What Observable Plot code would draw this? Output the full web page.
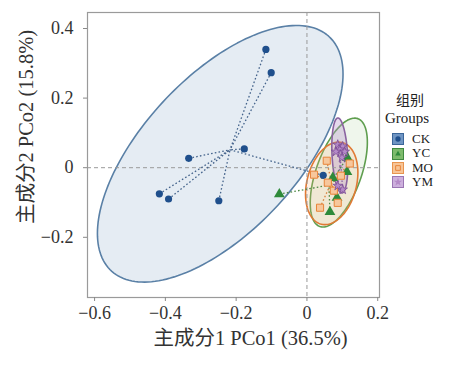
<!DOCTYPE html>
<html><head><meta charset="utf-8">
<script src="https://cdn.jsdelivr.net/npm/d3@7"></script>
<script src="https://cdn.jsdelivr.net/npm/@observablehq/plot@0.6"></script>
<style>
body{margin:0;background:#fff;}
#wrap{position:relative;width:464px;height:373px;background:#fff;overflow:hidden;}
#legend{position:absolute;left:384px;top:88px;font-family:'Liberation Serif','Noto Sans CJK SC',serif;color:#222;}
#legend .ttl{position:absolute;white-space:nowrap;line-height:16px;}
#legend .item{position:absolute;left:8px;height:14.4px;line-height:14.4px;display:flex;align-items:center;white-space:nowrap;font-size:13px;}
#legend .item svg{margin-right:8px;}
</style></head><body><div id="wrap"><div id="legend"></div></div>
<script>
// ---- data ----
const groups = ["CK", "YC", "MO", "YM"];
const ckX = [-0.116, -0.101, -0.177, -0.334, -0.417, -0.391, -0.249, 0.046];
const ckY = [0.340, 0.273, 0.054, 0.027, -0.075, -0.090, -0.095, -0.022];
const ycX = [-0.078, 0.114, 0.113, 0.073, 0.085, 0.065];
const ycY = [-0.076, 0.029, -0.012, -0.029, -0.086, -0.127];
const moX = [0.056, 0.020, 0.059, 0.096, 0.121, 0.037, 0.087, 0.076];
const moY = [0.020, -0.020, -0.043, -0.023, 0.012, -0.115, -0.101, -0.066];
const ymX = [0.087, 0.101, 0.093, 0.107, 0.082, 0.099, 0.101, 0.087];
const ymY = [0.066, 0.061, 0.052, 0.046, 0.046, 0.029, -0.063, -0.052];
// confidence ellipses: centre, semi-axes, angle (deg)
const ellCx = [-0.245, 0.090, 0.070, 0.093];
const ellCy = [0.040, -0.014, -0.045, 0.035];
const ellA = [0.456, 0.164, 0.121, 0.108];
const ellB = [0.220, 0.064, 0.070, 0.022];
const ellAngle = [47.8, 71, 76, 93];
const xTicks = [-0.6, -0.4, -0.2, 0, 0.2];
const yTicks = [-0.2, 0, 0.2, 0.4];
const xTitle = "主成分1 PCo1 (36.5%)";
const yTitle = "主成分2 PCo2 (15.8%)";
const legendTitle1 = "组别";
const legendTitle2 = "Groups";

// ---- styles ----
const symbols = {CK: "circle", YC: "triangle", MO: "square", YM: "star"};
const ptFill = {CK: "#1f4f8c", YC: "#2e8a3a", MO: "#f7c79c", YM: "#b58ac8"};
const ptStroke = {CK: "none", YC: "none", MO: "#e8843a", YM: "#7a4a94"};
const ellStroke = {CK: "#5a80a6", YC: "#5f9e4f", MO: "#e07a35", YM: "#8a62a0"};
const ellFill = {CK: "#4a78a8", YC: "#8dc07a", MO: "#f5b47a", YM: "#b493cc"};
const ellFillOp = {CK: 0.14, YC: 0.14, MO: 0.2, YM: 0.35};
const linkStroke = {CK: "#45648c", YC: "#4f8a45", MO: "#d9823e", YM: "#8a62a0"};
const keyFill = {CK: "#6f95c3", YC: "#7dbb6c", MO: "#f7c496", YM: "#cdb0dd"};
const keyStroke = {CK: "#3b6699", YC: "#3f8a3f", MO: "#e8944f", YM: "#9a75b3"};

// ---- build tables ----
const xs = {CK: ckX, YC: ycX, MO: moX, YM: ymX};
const ys = {CK: ckY, YC: ycY, MO: moY, YM: ymY};
const points = groups.flatMap(g => xs[g].map((x, i) => ({group: g, x, y: ys[g][i]})));
const centroids = Object.fromEntries(groups.map(g => [g, {x: d3.mean(xs[g]), y: d3.mean(ys[g])}]));
const links = points.map(p => ({...p, cx: centroids[p.group].x, cy: centroids[p.group].y}));
const ellipse = (i) => {
  const th = ellAngle[i] * Math.PI / 180;
  return d3.range(0, 361, 2).map(deg => {
    const t = deg * Math.PI / 180;
    return {
      x: ellCx[i] + ellA[i] * Math.cos(t) * Math.cos(th) - ellB[i] * Math.sin(t) * Math.sin(th),
      y: ellCy[i] + ellA[i] * Math.cos(t) * Math.sin(th) + ellB[i] * Math.sin(t) * Math.cos(th)
    };
  });
};
const fmt = d => d === 0 ? "0" : d3.format(".1f")(d);
const serif = "'Liberation Serif','Times New Roman','Noto Sans CJK SC',serif";

const marks = [];
groups.forEach((g, i) => {
  marks.push(Plot.line(ellipse(i), {x: "x", y: "y", stroke: ellStroke[g], strokeWidth: 1.6,
    fill: ellFill[g], fillOpacity: ellFillOp[g], curve: "linear-closed"}));
});
marks.push(Plot.ruleY([0], {stroke: "#9a9a9a", strokeDasharray: "4,3", strokeWidth: 1}));
marks.push(Plot.ruleX([0], {stroke: "#9a9a9a", strokeDasharray: "4,3", strokeWidth: 1}));
groups.forEach(g => {
  marks.push(Plot.link(links.filter(d => d.group === g), {x1: "x", y1: "y", x2: "cx", y2: "cy",
    stroke: linkStroke[g], strokeWidth: 1.3, strokeDasharray: "1.6,2.2"}));
});
groups.forEach(g => {
  marks.push(Plot.dot(points.filter(d => d.group === g), {x: "x", y: "y", symbol: symbols[g],
    r: g === "CK" ? 3.6 : g === "YM" ? 3 : 4, fill: ptFill[g], stroke: ptStroke[g], strokeWidth: g === "YM" ? 0.8 : 1}));
});
marks.push(Plot.frame({stroke: "#9a9a9a", strokeWidth: 1.2}));
marks.push(Plot.axisX(xTicks, {tickFormat: fmt, tickSize: 4, tickPadding: 5, stroke: "#888", color: "#333", fontSize: 18, label: null}));
marks.push(Plot.axisY(yTicks, {tickFormat: fmt, tickSize: 4, tickPadding: 10, stroke: "#888", color: "#333", fontSize: 18, label: null}));
marks.push(Plot.text([xTitle], {frameAnchor: "bottom", lineAnchor: "middle", textAnchor: "middle", dx: 17, dy: 41, fontSize: 20.5, fill: "#333"}));
marks.push(Plot.text([yTitle], {frameAnchor: "left", lineAnchor: "middle", textAnchor: "middle", rotate: -90, dx: -61, dy: -28, fontSize: 20.5, fill: "#333"}));

const chart = Plot.plot({
  width: 464, height: 373,
  marginLeft: 87, marginRight: 85, marginTop: 12, marginBottom: 76,
  x: {domain: [-0.62, 0.205]},
  y: {domain: [-0.373, 0.446]},
  style: {fontFamily: serif, fontSize: "18px", color: "#333", background: "white", overflow: "visible"},
  marks
});
document.getElementById("wrap").prepend(chart);

// ---- legend ----
const leg = d3.select("#legend");
leg.append("div").attr("class", "ttl").style("left", "12px").style("top", "3px").style("font-size", "14px")
  .style("font-family", "'Noto Sans CJK SC',sans-serif").text(legendTitle1);
leg.append("div").attr("class", "ttl").style("left", "1px").style("top", "22px").style("font-size", "15px").text(legendTitle2);
groups.forEach((g, i) => {
  const it = leg.append("div").attr("class", "item").style("top", (44 + i * 14.4) + "px");
  const svg = it.append("svg").attr("width", 12).attr("height", 12);
  svg.append("rect").attr("x", 0.5).attr("y", 0.5).attr("width", 11).attr("height", 11)
    .attr("fill", keyFill[g]).attr("stroke", keyStroke[g]);
  const sym = {circle: d3.symbolCircle, triangle: d3.symbolTriangle2, square: d3.symbolSquare, star: d3.symbolStar}[symbols[g]];
  svg.append("path").attr("transform", "translate(6,6)").attr("d", d3.symbol(sym, 22)())
    .attr("fill", g === "MO" ? "none" : ptFill[g]).attr("stroke", g === "MO" ? "#e8843a" : "none");
  it.append("span").text(g);
});
</script></body></html>
